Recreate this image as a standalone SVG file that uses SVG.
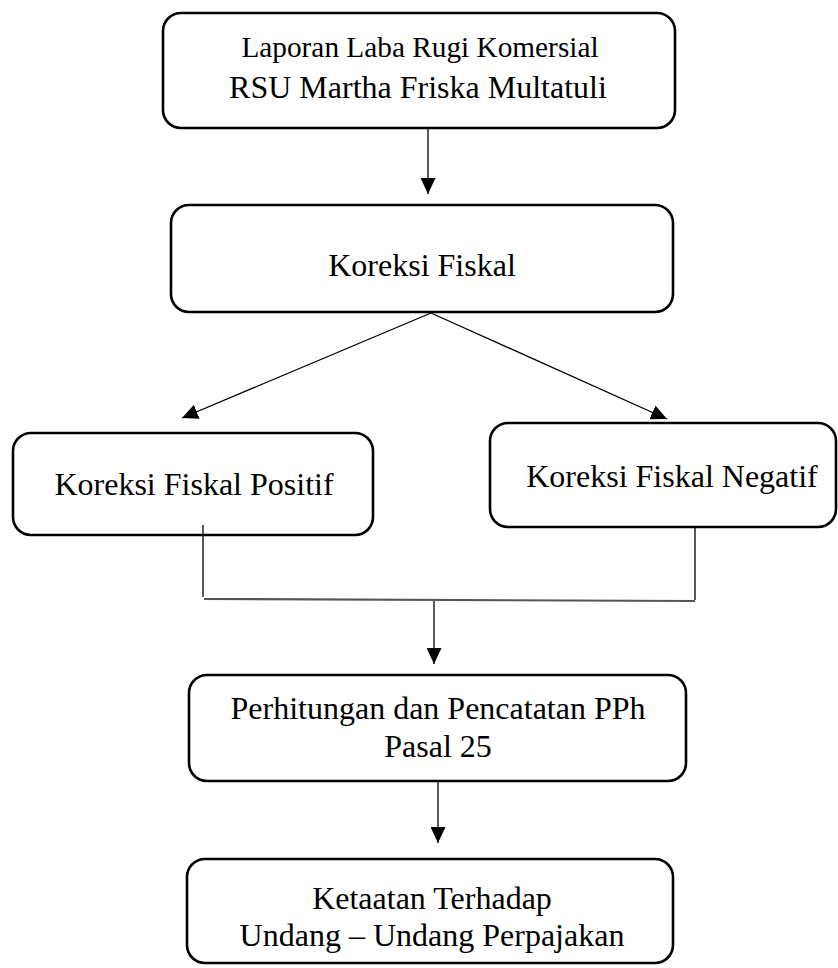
<svg xmlns="http://www.w3.org/2000/svg" width="838" height="968" viewBox="0 0 838 968">
<style>
.box{fill:#fff;stroke:#000;stroke-width:2.6}
.t{font-family:"Liberation Serif","Times New Roman",serif;font-size:32px;fill:#000;text-anchor:middle}
.s{font-size:29.3px}
.c{stroke:#000;stroke-width:1.3;fill:none}
.g{stroke:#555;stroke-width:2.2;fill:none}
</style>
<defs>
<marker id="ah" markerWidth="16" markerHeight="15" refX="16" refY="7.5" orient="auto" markerUnits="userSpaceOnUse">
<path d="M0,0 L16,7.5 L0,15 Z" fill="#000"/>
</marker>
</defs>
<rect width="838" height="968" fill="#fff"/>
<g id="n1">
<rect class="box" x="163" y="13" width="512" height="115" rx="18"/>
<text class="t s" x="420" y="57">Laporan Laba Rugi Komersial</text>
<text class="t" x="418" y="98">RSU Martha Friska Multatuli</text>
</g>
<g id="n2">
<rect class="box" x="171" y="205" width="502" height="107" rx="18"/>
<text class="t" x="422" y="276">Koreksi Fiskal</text>
</g>
<g id="n3">
<rect class="box" x="13" y="433" width="360" height="102" rx="18"/>
<text class="t" x="194" y="495">Koreksi Fiskal Positif</text>
</g>
<g id="n4">
<rect class="box" x="490" y="423" width="346" height="104" rx="18"/>
<text class="t" x="672" y="487">Koreksi Fiskal Negatif</text>
</g>
<g id="n5">
<rect class="box" x="189" y="675" width="497" height="106" rx="18"/>
<text class="t" x="438" y="719">Perhitungan dan Pencatatan PPh</text>
<text class="t" x="438" y="757">Pasal 25</text>
</g>
<g id="n6">
<rect class="box" x="187" y="859" width="486" height="104" rx="18"/>
<text class="t" x="432" y="909">Ketaatan Terhadap</text>
<text class="t" x="432" y="946">Undang – Undang Perpajakan</text>
</g>
<g id="connectors">
<line class="c" x1="428" y1="129" x2="428" y2="194" marker-end="url(#ah)"/>
<line class="c" x1="431" y1="313" x2="182" y2="418" marker-end="url(#ah)"/>
<line class="c" x1="431" y1="313" x2="667" y2="419" marker-end="url(#ah)"/>
<line class="c" x1="203" y1="525" x2="203" y2="597"/>
<line class="c" x1="695" y1="527" x2="695" y2="600"/>
<line class="g" x1="204" y1="599" x2="695" y2="601"/>
<line class="c" x1="434" y1="601" x2="434" y2="664" marker-end="url(#ah)"/>
<line class="c" x1="438" y1="782" x2="438" y2="843" marker-end="url(#ah)"/>
</g>
</svg>
